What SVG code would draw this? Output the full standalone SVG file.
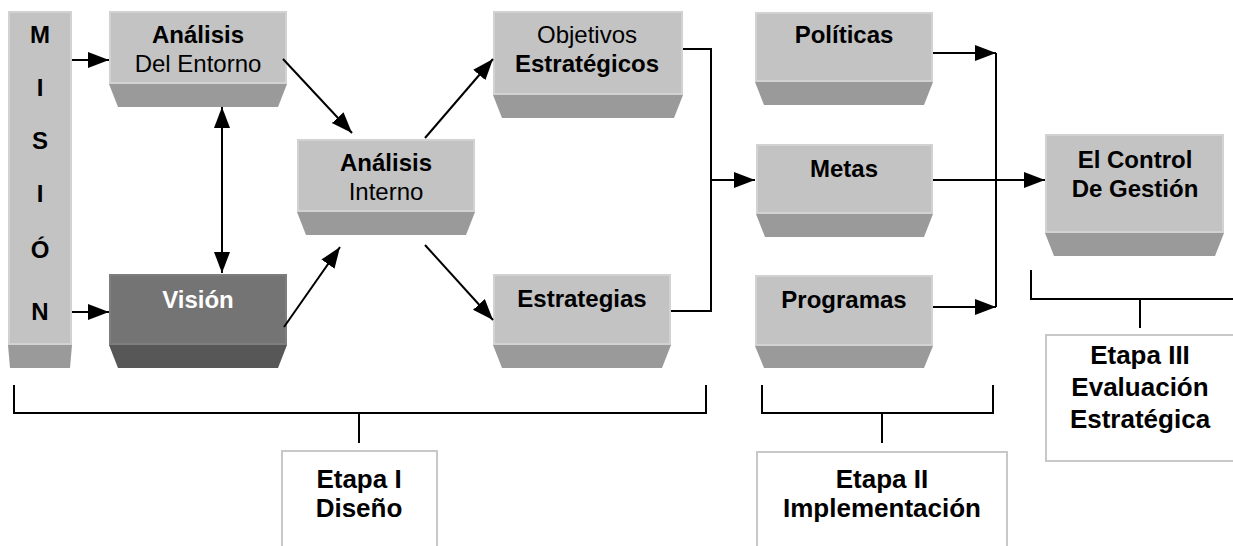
<svg xmlns="http://www.w3.org/2000/svg" width="1233" height="546" viewBox="0 0 1233 546">
<defs>
<style>
.box{fill:#c3c3c3;stroke:#d2d2d2;stroke-width:2}
.base{fill:#9a9a9a}
.dbox{fill:#747474;stroke:#7e7e7e;stroke-width:2}
.dbase{fill:#575757}
.lbl{fill:none;stroke:#c8c8c8;stroke-width:2}
text{font-family:"Liberation Sans",Arial,sans-serif;font-size:24px;text-anchor:middle;fill:#000}
.b{font-weight:bold}
.w{fill:#fff}
.et{font-size:26px;font-weight:bold}
.ln{stroke:#000;stroke-width:2;fill:none}
.ar{stroke:#000;stroke-width:2;fill:none;marker-end:url(#ah)}
</style>
<marker id="ah" markerUnits="userSpaceOnUse" markerWidth="22" markerHeight="18" viewBox="0 0 22 18" refX="21" refY="9" orient="auto-start-reverse">
<path d="M0,1 L21,9 L0,17 z" fill="#000"/>
</marker>
</defs>
<rect width="1233" height="546" fill="#fff"/>

<g id="mision">
<rect class="box" x="9" y="12" width="62" height="332"/>
<polygon class="base" points="8,345 72,345 70,368 10,368"/>
<text class="b" x="40" y="43">M</text>
<text class="b" x="40" y="96">I</text>
<text class="b" x="40" y="149">S</text>
<text class="b" x="40" y="202">I</text>
<text class="b" x="40" y="258">Ó</text>
<text class="b" x="40" y="320">N</text>
</g>

<g id="analisis-entorno">
<rect class="box" x="110" y="12" width="176" height="71"/>
<polygon class="base" points="109,84 287,84 278,107 118,107"/>
<text class="b" x="198" y="43">Análisis</text>
<text x="198" y="72">Del Entorno</text>
</g>

<g id="vision">
<rect class="dbox" x="110" y="275" width="176" height="69"/>
<polygon class="dbase" points="109,345 287,345 278,368 118,368"/>
<text class="b w" x="198" y="308">Visión</text>
</g>

<g id="analisis-interno">
<rect class="box" x="298" y="140" width="176" height="71"/>
<polygon class="base" points="297,212 475,212 466,235 306,235"/>
<text class="b" x="386" y="171">Análisis</text>
<text x="386" y="200">Interno</text>
</g>

<g id="objetivos">
<rect class="box" x="494" y="12" width="188" height="82"/>
<polygon class="base" points="493,95 683,95 674,118 502,118"/>
<text x="587" y="43">Objetivos</text>
<text class="b" x="587" y="72">Estratégicos</text>
</g>

<g id="estrategias">
<rect class="box" x="494" y="275" width="176" height="69"/>
<polygon class="base" points="493,345 671,345 662,368 502,368"/>
<text class="b" x="582" y="307">Estrategias</text>
</g>

<g id="politicas">
<rect class="box" x="756" y="13" width="176" height="68"/>
<polygon class="base" points="755,82 933,82 924,105 764,105"/>
<text class="b" x="844" y="43">Políticas</text>
</g>

<g id="metas">
<rect class="box" x="757" y="145" width="175" height="68"/>
<polygon class="base" points="756,214 933,214 924,237 765,237"/>
<text class="b" x="844" y="177">Metas</text>
</g>

<g id="programas">
<rect class="box" x="756" y="276" width="176" height="69"/>
<polygon class="base" points="755,346 933,346 924,368 764,368"/>
<text class="b" x="844" y="308">Programas</text>
</g>

<g id="control">
<rect class="box" x="1046" y="135" width="177" height="97"/>
<polygon class="base" points="1045,233 1224,233 1215,256 1054,256"/>
<text class="b" x="1135" y="168">El Control</text>
<text class="b" x="1135" y="197">De Gestión</text>
</g>

<g id="etapa1">
<rect class="lbl" x="282" y="451" width="155" height="110"/>
<text class="et" x="359" y="488">Etapa I</text>
<text class="et" x="359" y="517">Diseño</text>
</g>

<g id="etapa2">
<rect class="lbl" x="757" y="452" width="250" height="110"/>
<text class="et" x="882" y="488">Etapa II</text>
<text class="et" x="882" y="517">Implementación</text>
</g>

<g id="etapa3">
<rect class="lbl" x="1046" y="335" width="200" height="126"/>
<text class="et" x="1140" y="364">Etapa III</text>
<text class="et" x="1140" y="396">Evaluación</text>
<text class="et" x="1140" y="428">Estratégica</text>
</g>

<g id="connectors">
<line class="ar" x1="72" y1="60" x2="109" y2="60"/>
<line class="ar" x1="72" y1="312" x2="109" y2="312"/>
<line class="ar" x1="222" y1="107" x2="222" y2="273" style="marker-start:url(#ah)"/>
<line class="ar" x1="283" y1="59" x2="352" y2="133"/>
<line class="ar" x1="284" y1="327" x2="340" y2="247"/>
<line class="ar" x1="425" y1="138" x2="493" y2="59"/>
<line class="ar" x1="425" y1="245" x2="493" y2="320"/>
<polyline class="ln" points="683,49 711,49 711,311 671,311"/>
<line class="ar" x1="711" y1="180" x2="755" y2="180"/>
<line class="ar" x1="933" y1="53" x2="996" y2="53"/>
<line class="ar" x1="933" y1="307" x2="996" y2="307"/>
<line class="ln" x1="996" y1="53" x2="996" y2="307"/>
<line class="ar" x1="933" y1="180" x2="1045" y2="180"/>
<polyline class="ln" points="14,385 14,413 706,413 706,385"/>
<line class="ln" x1="359" y1="413" x2="359" y2="443"/>
<polyline class="ln" points="762,385 762,413 993,413 993,385"/>
<line class="ln" x1="882" y1="413" x2="882" y2="443"/>
<polyline class="ln" points="1031,270 1031,299 1233,299"/>
<line class="ln" x1="1140" y1="299" x2="1140" y2="328"/>
</g>
</svg>
